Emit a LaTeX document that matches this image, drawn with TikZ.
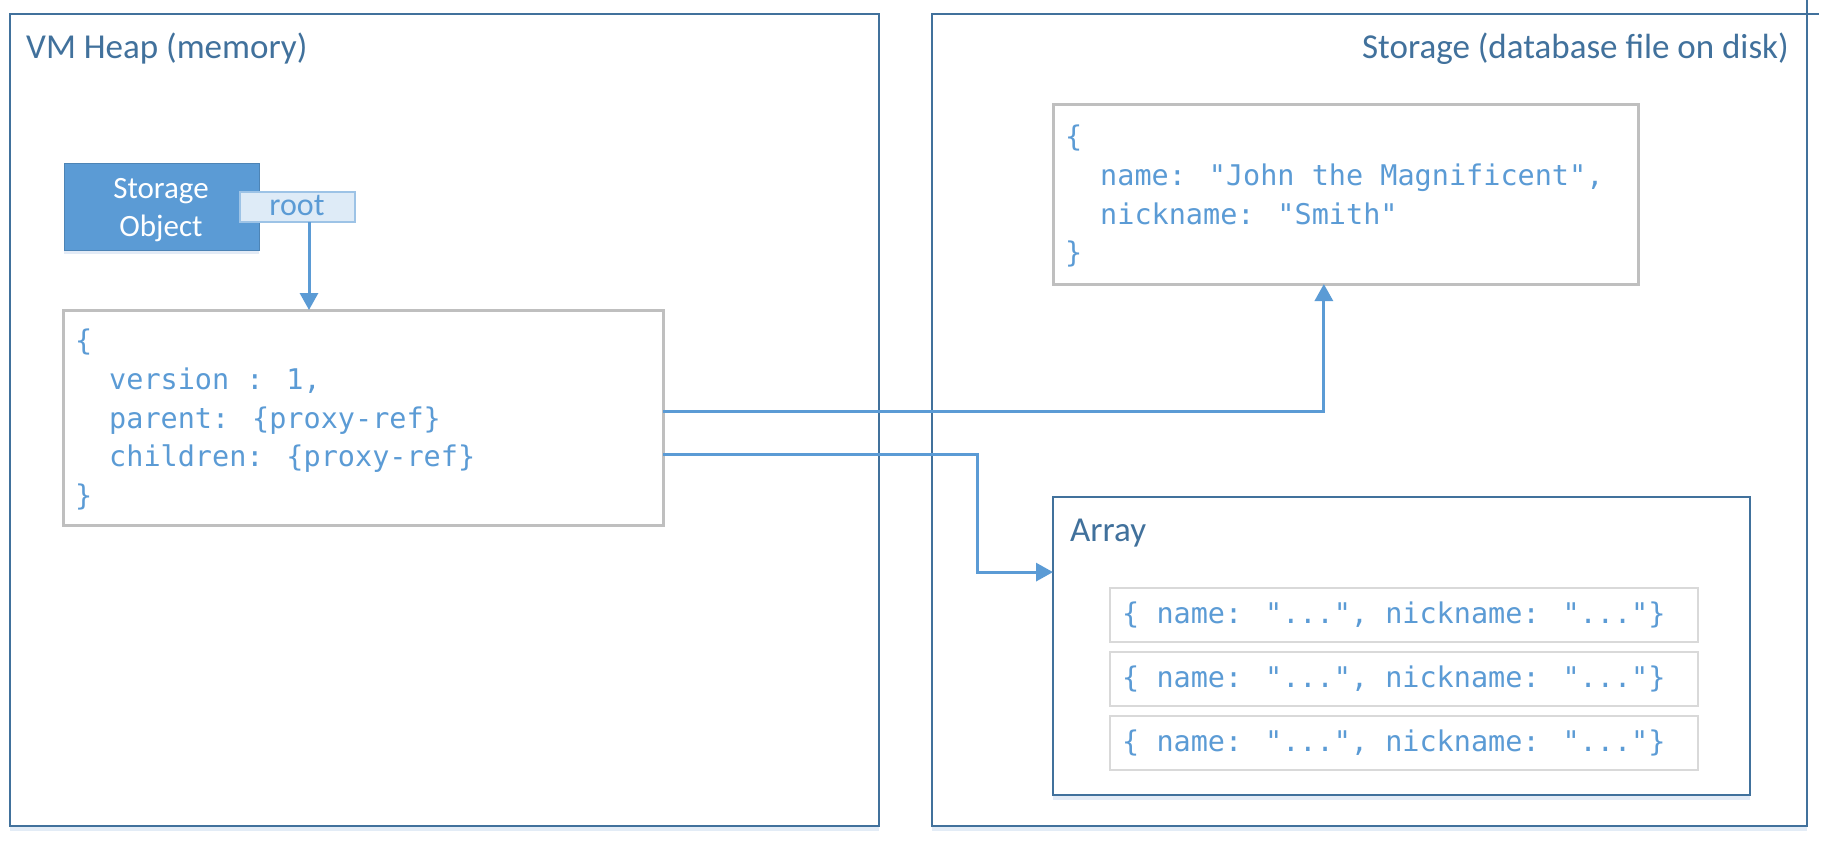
\documentclass[tikz,border=0pt]{standalone}
\usepackage{fontspec}
\setmainfont{Carlito}
\newfontfamily\codefont{DejaVu Sans Mono}
\usetikzlibrary{arrows.meta,calc,shadows}
\definecolor{panelc}{HTML}{41719C}
\definecolor{titlec}{HTML}{41719C}
\definecolor{accent}{HTML}{5B9BD5}
\definecolor{graybox}{HTML}{BFBFBF}
\definecolor{itemgray}{HTML}{D9D9D9}
\definecolor{rootfill}{HTML}{DEEBF7}
\definecolor{rootdraw}{HTML}{9DC3E6}
\definecolor{shadowc}{HTML}{DCE7F4}
\begin{document}
\begin{tikzpicture}[x=1pt,y=-1pt,
  box/.style={anchor=north west, inner sep=0pt, outer sep=0pt},
  panel/.style={box, draw=panelc, line width=2.5pt, fill=white,
    drop shadow={shadow xshift=0pt, shadow yshift=-5pt, fill=shadowc, opacity=0.8}},
  codebox/.style={box, draw=graybox, line width=3pt, fill=white},
  itembox/.style={box, draw=itemgray, line width=1.8pt, fill=white},
  solid/.style={box, fill=accent, draw=accent!85!black, line width=1pt,
    drop shadow={shadow xshift=0pt, shadow yshift=-4pt, fill=shadowc, opacity=0.8}},
  rootbox/.style={box, fill=rootfill, draw=rootdraw, line width=1.5pt},
  title/.style={font=\fontsize{35}{40}\selectfont, text=titlec, inner sep=0pt},
  code/.style={font=\codefont\fontsize{28.5}{38}\selectfont, text=accent, inner sep=0pt, anchor=base west},
  arr/.style={draw=accent, line width=3pt, -{Triangle[length=17pt,width=18pt]}}
]
\useasboundingbox (0,0) rectangle (1821,841);

% panels
\node[panel, minimum width=869pt, minimum height=812pt] (heap) at (10,14) {};
\node[panel, minimum width=875pt, minimum height=812pt] (disk) at (932,14) {};
\draw[panelc, line width=2.5pt] (disk.north east) -- ++(12,0);
\draw[panelc, line width=2pt] (disk.north east) -- ++(0,-14);

\node[title, anchor=base west] (heapt) at (26,58) {VM Heap (memory)};
\node[title, anchor=base east] (diskt) at (1789,58) {Storage (database file on disk)};

% storage object
\node[solid, minimum width=195pt, minimum height=87pt] (so) at (64,163) {};
\node[font=\fontsize{31}{37}\selectfont, text=white, inner sep=0pt, anchor=base] (so1) at (161,198) {Storage};
\node[font=\fontsize{31}{37}\selectfont, text=white, inner sep=0pt, anchor=base] (so2) at (161,236) {Object};
\node[rootbox, minimum width=115pt, minimum height=30pt] (root) at (240,192) {};
\node[font=\fontsize{32}{36}\selectfont, text=accent, inner sep=0pt, anchor=base] (roott) at (297,215) {root};

% code box in heap
\node[codebox, minimum width=600pt, minimum height=215pt] (code) at (63,310) {};
\node[code] (c1) at (75,350) {\{};
\node[code] (c2) at (109,389) {version : 1,};
\node[code] (c3) at (109,428) {parent: \{proxy-ref\}};
\node[code] (c4) at (109,466) {children: \{proxy-ref\}};
\node[code] (c5) at (75,505) {\}};

% json object on disk
\node[codebox, minimum width=585pt, minimum height=180pt] (jtop) at (1053,104) {};
\node[code] (j1) at (1065,146) {\{};
\node[code] (j2) at (1100,185) {name: "John the Magnificent",};
\node[code] (j3) at (1100,224) {nickname: "Smith"};
\node[code] (j4) at (1065,262) {\}};

% array
\node[panel, minimum width=697pt, minimum height=298pt] (array) at (1053,497) {};
\node[title, anchor=base west] (arrayt) at (1070,541) {Array};
\node[itembox, minimum width=588pt, minimum height=54pt] (i1) at (1110,588) {};
\node[itembox, minimum width=588pt, minimum height=54pt] (i2) at (1110,652) {};
\node[itembox, minimum width=588pt, minimum height=54pt] (i3) at (1110,716) {};
\node[code] (t1) at ($(i1.south west)+(12,-19)$) {\{ name: "...", nickname: "..."\}};
\node[code] (t2) at ($(i2.south west)+(12,-19)$) {\{ name: "...", nickname: "..."\}};
\node[code] (t3) at ($(i3.south west)+(12,-19)$) {\{ name: "...", nickname: "..."\}};

% connectors
\coordinate (rs) at ($(root.south west)!0.6!(root.south east)$);
\draw[arr] (rs) -- (rs |- code.north);
\coordinate (p0) at ($(code.north east)!0.474!(code.south east)$);
\coordinate (p1) at ($(jtop.south west)!0.463!(jtop.south east)$);
\draw[arr] (p0) -| (p1);
\coordinate (k0) at ($(code.north east)!0.67!(code.south east)$);
\coordinate (k1) at ($(array.north west)!0.252!(array.south west)$);
\draw[arr] (k0) -- ++(314,0) |- (k1);
\end{tikzpicture}
\end{document}
